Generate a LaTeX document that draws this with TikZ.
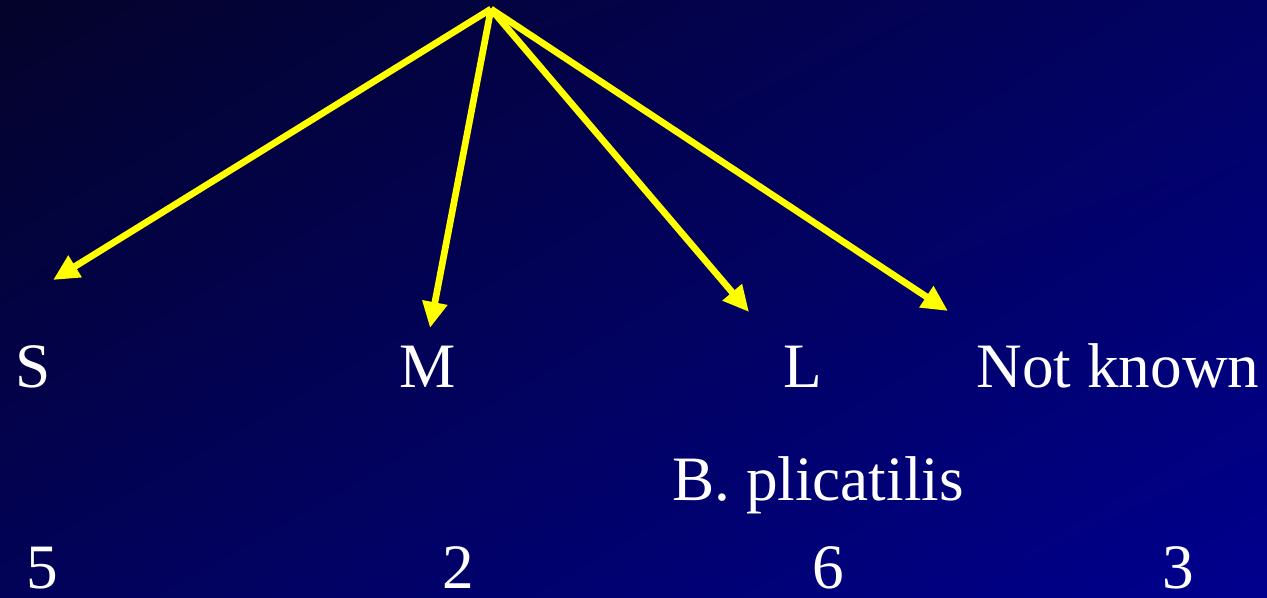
\documentclass[tikz,border=0pt]{standalone}
\usepackage{fontspec}
\setmainfont{Liberation Serif}
\usetikzlibrary{arrows.meta,shadings}
\definecolor{bgTL}{RGB}{4,3,42}
\definecolor{bgTR}{RGB}{2,2,100}
\definecolor{bgBL}{RGB}{2,2,88}
\definecolor{bgBR}{RGB}{0,0,142}
\definecolor{arrowyellow}{RGB}{255,255,0}
\tikzset{
  lbl/.style={text=white, font=\fontsize{36}{40}\selectfont, anchor=base, inner sep=0pt},
  yarrow/.style={draw=arrowyellow, line width=3.8pt, -{Triangle[length=0.52cm,width=0.48cm]}}
}
\begin{document}
\begin{tikzpicture}[x=0.02cm,y=-0.02cm]
\shade[upper left=bgTL, upper right=bgTR, lower left=bgBL, lower right=bgBR] (0,0) rectangle (1267,598);
\useasboundingbox (0,0) rectangle (1267,598);
\coordinate (apex) at (491,9);
\coordinate (tS) at (53,280);
\coordinate (tM) at (430,328);
\coordinate (tL) at (749,312);
\coordinate (tN) at (948,311);
\node[lbl] (S) at (33,387) {S};
\node[lbl] (M) at (428,387) {M};
\node[lbl] (L) at (803,387) {L};
\node[lbl] (N) at (1118,387) {Not known};
\node[lbl] (B) at (818,500) {B. plicatilis};
\node[lbl] (n5) at (42,588) {5};
\node[lbl] (n2) at (458,588) {2};
\node[lbl] (n6) at (828,588) {6};
\node[lbl] (n3) at (1178,588) {3};
\draw[yarrow] (apex) -- (tS);
\draw[yarrow] (apex) -- (tM);
\draw[yarrow] (apex) -- (tL);
\draw[yarrow] (apex) -- (tN);
\end{tikzpicture}
\end{document}
